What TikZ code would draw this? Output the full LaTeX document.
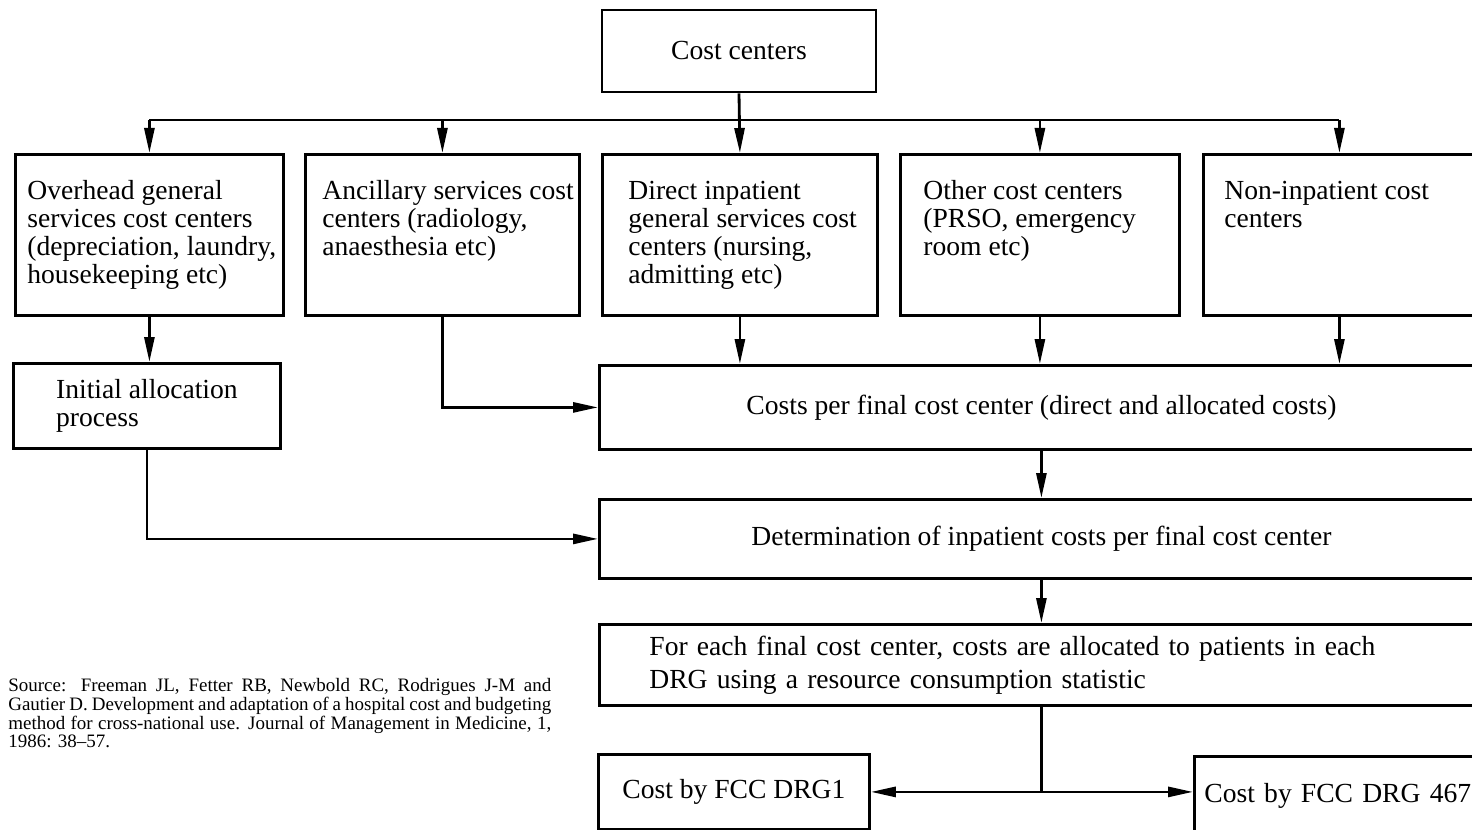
\documentclass[tikz,border=0pt]{standalone}
\usepackage{fontspec}
\setmainfont{Liberation Serif}
\usepackage{tikz}
\usetikzlibrary{arrows.meta}
\usetikzlibrary{calc}
\tikzset{>={Triangle[length=5mm,width=2mm]}}

\begin{document}
\begin{tikzpicture}[
    cbox/.style={draw, line width=1.6pt, rectangle},
    link/.style={line width=1.6pt},
    font=\fontsize{15.7}{15.9}\selectfont
]
    \def\rowtop{-3.06}
    \def\busy{-2.4}
    \def\rowtext#1#2{\parbox[t][2.18cm][t]{#1}{\begin{tabular}[t]{@{}l@{}}#2\end{tabular}}}

    \useasboundingbox (0,0) rectangle (29.44,-16.6);
    \clip (0,0) rectangle (29.44,-16.6);

    \node[cbox, minimum width=5.48cm, minimum height=1.64cm] (centers) at (14.78,-1.02) {Cost centers};

    % first row of cost centers
    \node[cbox, anchor=north west, inner ysep=0.52cm, inner xsep=0.24cm] (overhead) at (0.28,\rowtop)
        {\rowtext{4.88cm}{Overhead general\\services cost centers\\(depreciation, laundry,\\housekeeping etc)}};
    \node[cbox, anchor=north west, inner ysep=0.52cm, inner xsep=0.34cm] (ancillary) at (6.08,\rowtop)
        {\rowtext{4.8cm}{Ancillary services cost\\centers (radiology,\\anaesthesia etc)}};
    \node[cbox, anchor=north west, inner ysep=0.52cm, inner xsep=0.52cm] (direct) at (12.02,\rowtop)
        {\rowtext{4.46cm}{Direct inpatient\\general services cost\\centers (nursing,\\admitting etc)}};
    \node[cbox, anchor=north west, inner ysep=0.52cm, inner xsep=0.46cm] (other) at (17.98,\rowtop)
        {\rowtext{4.66cm}{Other cost centers\\(PRSO, emergency\\room etc)}};
    \node[cbox, anchor=north west, inner ysep=0.52cm, inner xsep=0.42cm] (noninp) at (24.04,\rowtop)
        {\rowtext{4.6cm}{Non-inpatient cost\\centers}};

    \node[cbox, anchor=north west, minimum width=5.34cm, minimum height=1.7cm, align=left] (initial) at (0.24,-7.24)
        {Initial allocation\\process};

    \node[cbox, anchor=north west, minimum width=17.68cm, minimum height=1.68cm] (costs) at (11.96,-7.28)
        {Costs per final cost center (direct and allocated costs)};
    \node[cbox, anchor=north west, minimum width=17.68cm, minimum height=1.58cm] (det) at (11.96,-9.96)
        {Determination of inpatient costs per final cost center};
    \node[cbox, anchor=north west, text width=15.68cm, inner xsep=1cm, minimum height=1.62cm, align=left] (each) at (11.96,-12.46)
        {For each final cost center, costs are allocated to patients in each\\[0.1cm]DRG using a resource consumption statistic};

    \node[cbox, anchor=north west, minimum width=5.42cm, minimum height=1.5cm] (drgone) at (11.94,-15.06) {Cost by FCC DRG1};
    \node[cbox, anchor=north west, text width=5.6cm, inner xsep=0.2cm, minimum height=1.56cm, align=left] (drglast) at (23.86,-15.1)
        {Cost by FCC DRG 467};

    % Source
    \node[anchor=north west, text width=10.86cm, align=justify, inner sep=0pt, font=\fontsize{10.8}{9.7}\selectfont] (source) at (0.16,-13.56)
        {Source: Freeman JL, Fetter RB, Newbold RC, Rodrigues J-M and\linebreak
         Gautier D. Development and adaptation of a hospital cost and budgeting\linebreak
         method for cross-national use. Journal of Management in Medicine, 1,\linebreak
         1986: 38--57.};

    % Connectors
    \coordinate (busL) at (overhead.north |- 0,\busy);
    \coordinate (busR) at (noninp.north |- 0,\busy);
    \draw[link] (busL) -- (busR);
    \draw[link,->] (centers.south) -- (direct.north);
    \foreach \n in {overhead, ancillary, other, noninp}
        \draw[link,->] (\n.north |- busL) -- (\n.north);

    \draw[link,->] (overhead.south) -- (overhead.south |- initial.north);
    \draw[link,->] (ancillary.south) |- (costs.west);
    \foreach \n in {direct, other, noninp}
        \draw[link,->] (\n.south) -- (\n.south |- costs.north);

    \draw[link,->] (initial.south) |- (det.west);
    \draw[link,->] (costs.south) -- (det.north);
    \draw[link,->] (det.south) -- (each.north);

    \coordinate (split) at (each.south |- drgone.east);
    \draw[link] (each.south) -- (split);
    \draw[link,->] (split) -- (drgone.east);
    \draw[link,->] (split) -- (split -| drglast.west);
\end{tikzpicture}
\end{document}
